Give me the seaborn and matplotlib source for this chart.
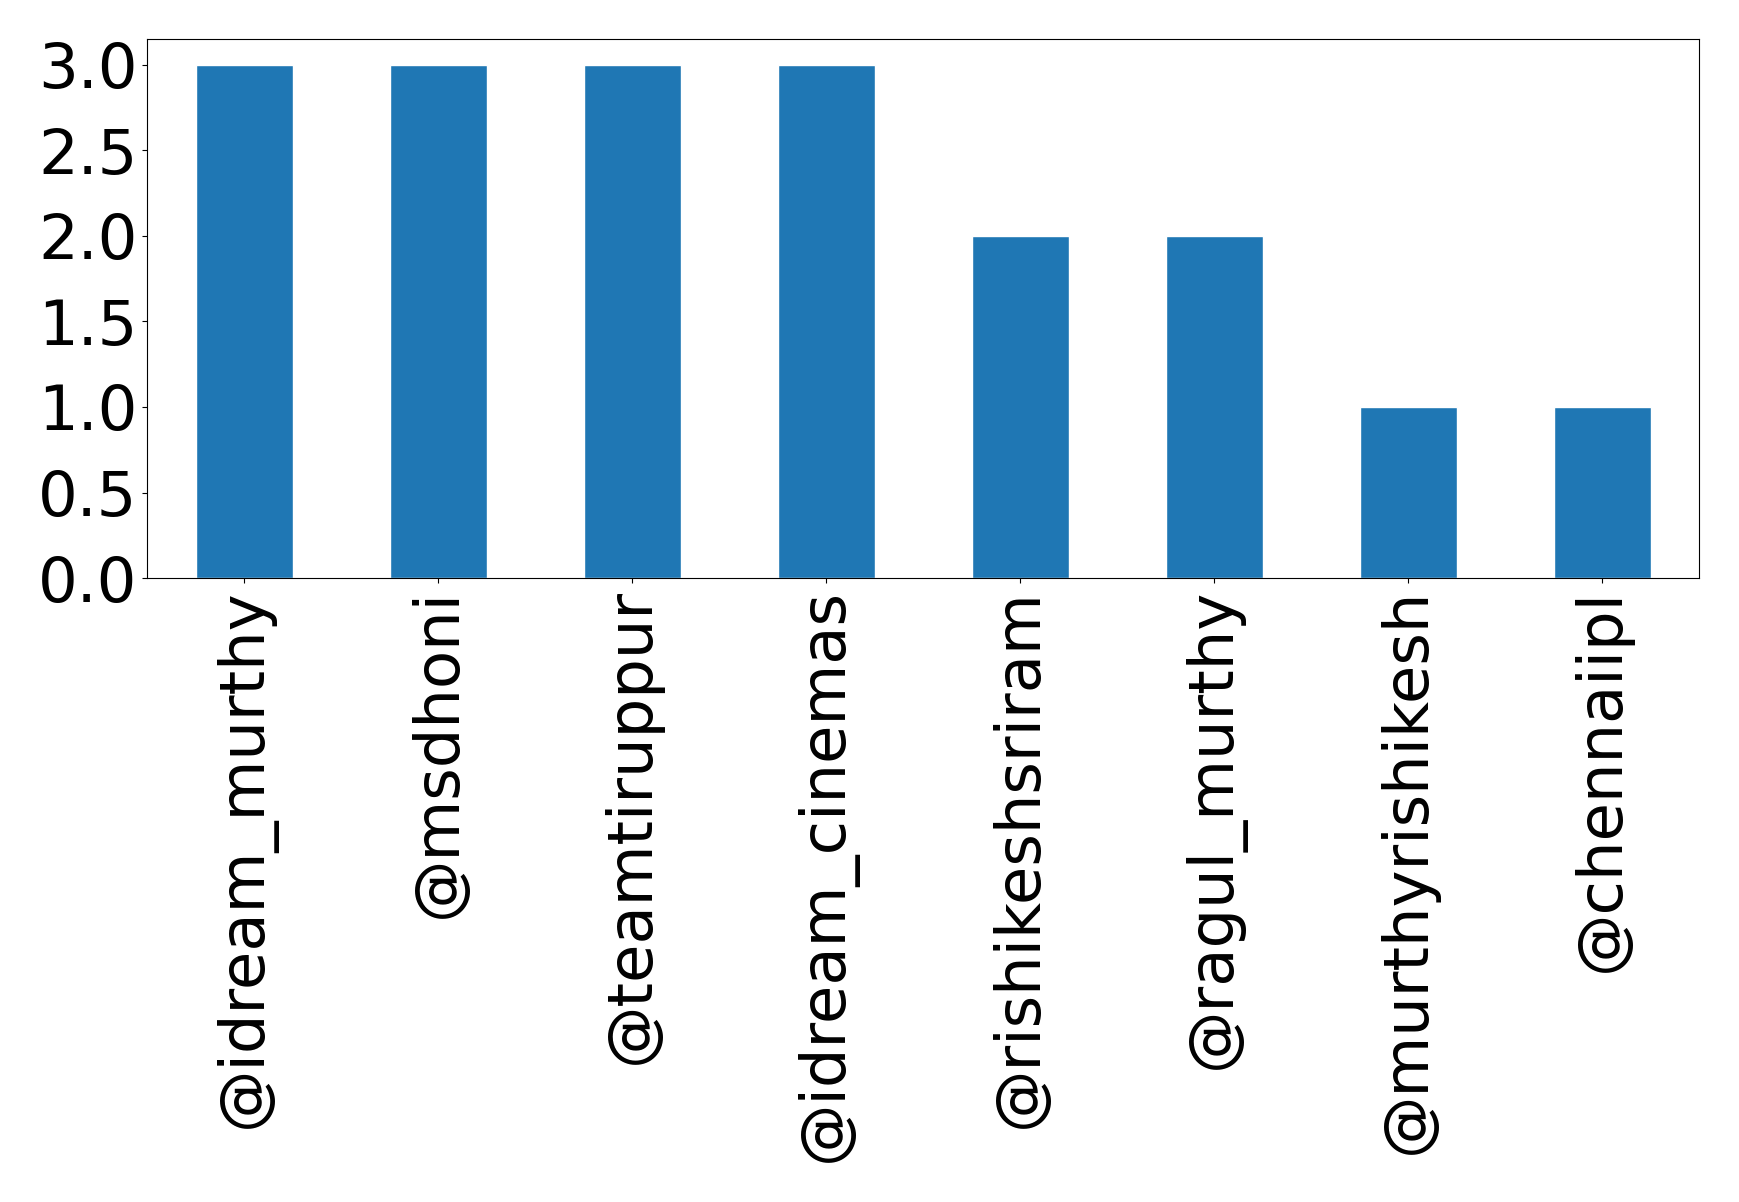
import matplotlib
matplotlib.use("Agg")
import matplotlib.pyplot as plt
import seaborn as sns
import pandas as pd

handles = ["@idream_murthy", "@msdhoni", "@teamtiruppur", "@idream_cinemas",
           "@rishikeshsriram", "@ragul_murthy", "@murthyrishikesh", "@chennaiipl"]
counts = [3, 3, 3, 3, 2, 2, 1, 1]

df = pd.DataFrame({"handle": handles, "count": counts})

sns.set_style("white")
plt.rcParams["font.family"] = ["DejaVu Sans"]

fig = plt.figure(figsize=(17.39, 12.02), dpi=100)
ax = fig.add_axes([0.0848, 0.519, 0.8922, 0.4486])

sns.barplot(data=df, x="handle", y="count", color="#1f77b4", saturation=1,
            width=0.5, ax=ax)

ax.set_xlim(-0.5, len(handles) - 0.5)
ax.set_ylim(0, 3.15)
ax.set_yticks([0, 0.5, 1.0, 1.5, 2.0, 2.5, 3.0])
ax.set_yticklabels(["0.0", "0.5", "1.0", "1.5", "2.0", "2.5", "3.0"])
ax.set_xlabel("")
ax.set_ylabel("")
ax.tick_params(axis="both", labelsize=45, length=3.5, width=0.8, color="black",
               labelcolor="black", direction="out", bottom=True, left=True)
ax.tick_params(axis="x", labelrotation=90)
for s in ax.spines.values():
    s.set_color("black")
    s.set_linewidth(0.8)

fig.savefig("out.png", dpi=100)
